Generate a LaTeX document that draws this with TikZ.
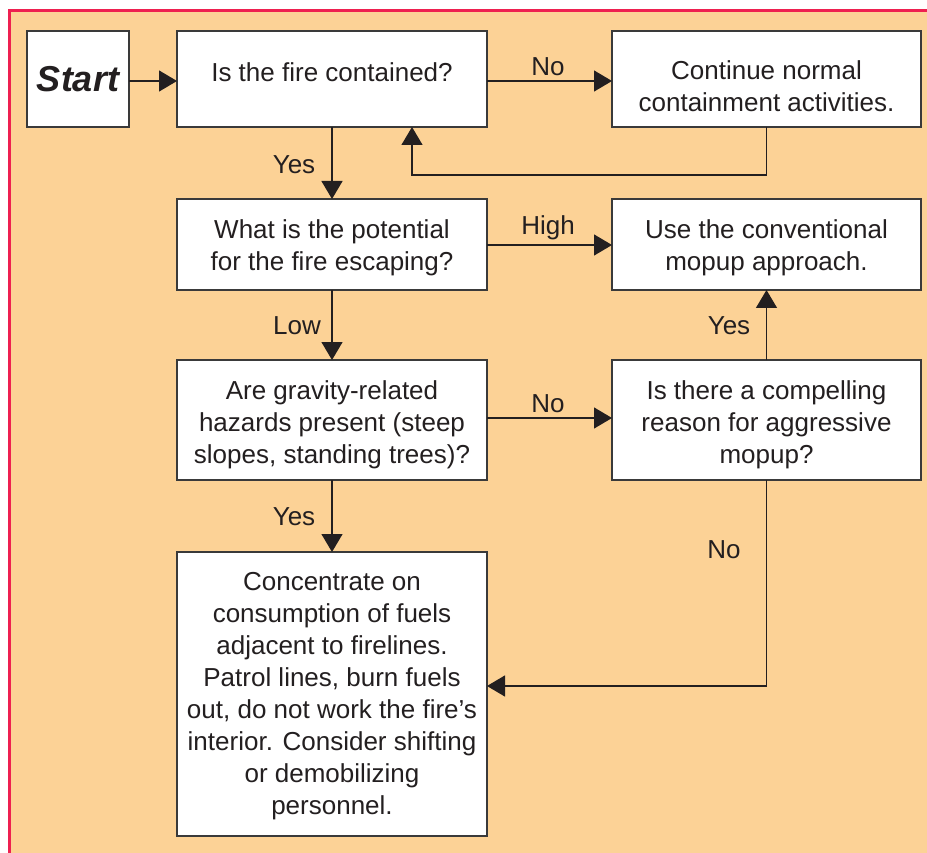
\documentclass[tikz,border=0pt]{standalone}
\usepackage{fontspec}
\setmainfont{Liberation Sans}
\usetikzlibrary{arrows.meta,calc}
\definecolor{bgfill}{HTML}{FCD296}
\definecolor{frame}{HTML}{EE2050}
\definecolor{ink}{HTML}{231F20}
\definecolor{boxline}{HTML}{3A3A3A}
\tikzset{
  box/.style={draw=boxline, line width=1.4pt, fill=white, inner sep=0pt, outer sep=0pt},
  txt/.style={text=ink, inner sep=0pt, align=center, font=\fontsize{26}{32}\selectfont},
  lbl/.style={text=ink, inner sep=0pt, font=\fontsize{26}{32}\selectfont},
  arr/.style={draw=ink, line width=1.3pt, -{Triangle[length=18pt,width=21pt]}},
}
\begin{document}
\begin{tikzpicture}[x=1pt,y=-1pt]
\useasboundingbox (0,0) rectangle (927,853);
\fill[white] (0,0) rectangle (927,853);
\draw[frame, line width=2.6pt, fill=bgfill] (9.5,10.5) rectangle (940,870);

\node[box, minimum width=102pt, minimum height=96pt, text=ink, font=\fontsize{36}{40}\selectfont\bfseries\itshape] (start) at (78,79) {Start};
\node[box, minimum width=310pt, minimum height=96pt] (b1) at (332,79) {};
\node[box, minimum width=309pt, minimum height=96pt] (b2) at (766.5,79) {};
\node[box, minimum width=310pt, minimum height=91pt] (b3) at (332,244.5) {};
\node[box, minimum width=309pt, minimum height=91pt] (b4) at (766.5,244.5) {};
\node[box, minimum width=310pt, minimum height=120pt] (b5) at (332,420) {};
\node[box, minimum width=309pt, minimum height=120pt] (b6) at (766.5,420) {};
\node[box, minimum width=310pt, minimum height=284pt] (b7) at (332,694) {};

\node[txt] (b1t) at (332,72) {Is the fire contained?};
\node[txt] (b2t) at (766.5,86) {Continue normal\\containment activities.};
\node[txt] (b3t) at (332,248) {What is the potential\\for the fire escaping?};
\node[txt] (b4t) at (766.5,248) {Use the conventional\\mopup approach.};
\node[txt] (b5t) at (332,424.5) {Are gravity-related\\hazards present (steep\\slopes, standing trees)?};
\node[txt] (b6t) at (766.5,424.5) {Is there a compelling\\reason for aggressive\\mopup?};
\node[txt] (b7t) at (332,696) {Concentrate on\\consumption of fuels\\adjacent to firelines.\\Patrol lines, burn fuels\\out, do not work the fire’s\\interior. Consider shifting\\or demobilizing\\personnel.};

\draw[arr] (start.east |- 0,81) -- (b1.west |- 0,81);
\draw[arr] (b1.east |- 0,81) -- (b2.west |- 0,81);
\draw[arr] (b2.south) -- (b2.south |- 0,175) -| ([xshift=80pt]b1.south);
\draw[arr] (b1.south) -- (b3.north);
\draw[arr] (b3.east |- 0,245) -- (b4.west |- 0,245);
\draw[arr] (b3.south) -- (b5.north);
\draw[arr] (b5.east |- 0,418) -- (b6.west |- 0,418);
\draw[arr] (b6.north) -- (b4.south);
\draw[arr] (b5.south) -- (b7.north);
\draw[arr] (b6.south) -- (b6.south |- 0,686) -- (b7.east |- 0,686);

\node[lbl] (l1) at (548,67) {No};
\node[lbl] (l2) at (548,228) {High};
\node[lbl] (l3) at (548,404) {No};
\node[lbl] (l4) at (294,165) {Yes};
\node[lbl] (l5) at (297,326) {Low};
\node[lbl] (l6) at (294,517) {Yes};
\node[lbl] (l7) at (729,326) {Yes};
\node[lbl] (l8) at (724,550) {No};
\end{tikzpicture}
\end{document}
